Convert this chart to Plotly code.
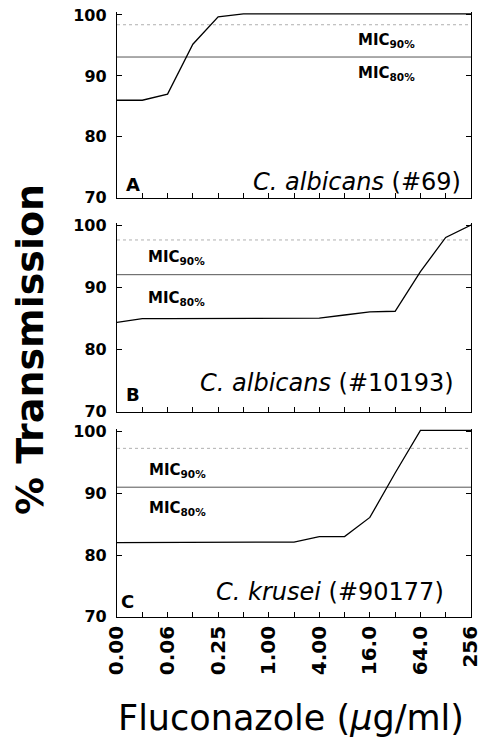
import plotly.graph_objects as go

# ---------------- data ----------------
dilution_index = list(range(15))          # two-fold dilution steps
tick_label_index = [0, 2, 4, 6, 8, 10, 12, 14]
conc_labels = ["0.00", "0.06", "0.25", "1.00", "4.00", "16.0", "64.0", "256"]

trans_A = [86.0, 86.0, 87.0, 95.2, 99.7, 100.2, 100.2, 100.2, 100.2, 100.2,
           100.2, 100.2, 100.2, 100.2, 100.2]
trans_B = [84.4, 85.0, 85.0, 85.0, 85.0, 85.0, 85.0, 85.0, 85.1, 85.6,
           86.1, 86.2, 92.6, 98.1, 100.1]
trans_C = [82.0, 82.0, 82.0, 82.0, 82.0, 82.0, 82.0, 82.1, 83.0, 83.0,
           86.1, 93.3, 100.2, 100.2, 100.2]

mic90 = [98.4, 97.7, 97.3]
mic80 = [93.1, 92.1, 91.0]

panel_letters = ["A", "B", "C"]
species = ["<i>C. albicans</i> (#69)", "<i>C. albicans</i> (#10193)", "<i>C. krusei</i> (#90177)"]

# ---------------- layout helpers ----------------
W, H = 481, 740
FONT = "DejaVu Sans"
px_left, px_right = 117, 471
panels_px = [(15.0, 197.7), (225.7, 411.7), (431.7, 616.7)]  # (y of 100, y of 70)
YMAX = 100.5

fig = go.Figure()
series = [trans_A, trans_B, trans_C]
minor_vals = [k for k in dilution_index if k not in tick_label_index]

for i, (p100, p70) in enumerate(panels_px):
    n = i + 1
    xa = "x" if n == 1 else f"x{n}"
    ya = "y" if n == 1 else f"y{n}"
    ppu = (p70 - p100) / 30.0
    top_px = p100 - (YMAX - 100) * ppu
    dom = [1 - p70 / H, 1 - top_px / H]

    fig.add_trace(go.Scatter(x=[dilution_index[0], dilution_index[-1]], y=[mic90[i]] * 2,
                             mode="lines", line=dict(color="#b0b0b0", width=1, dash="dot"),
                             xaxis=xa, yaxis=ya, showlegend=False, hoverinfo="skip"))
    fig.add_trace(go.Scatter(x=[dilution_index[0], dilution_index[-1]], y=[mic80[i]] * 2,
                             mode="lines", line=dict(color="#555555", width=1),
                             xaxis=xa, yaxis=ya, showlegend=False, hoverinfo="skip"))
    fig.add_trace(go.Scatter(x=dilution_index, y=series[i], mode="lines",
                             line=dict(color="black", width=1.3),
                             xaxis=xa, yaxis=ya, showlegend=False))

    xkey = "xaxis" if n == 1 else f"xaxis{n}"
    ykey = "yaxis" if n == 1 else f"yaxis{n}"
    fig.update_layout(**{
        xkey: dict(domain=[px_left / W, px_right / W], anchor=ya, range=[0, 14],
                   showline=True, linecolor="black", linewidth=1.3, mirror=False,
                   ticks="inside", ticklen=5, tickwidth=1, tickcolor="black",
                   tickmode="array", tickvals=tick_label_index, ticktext=conc_labels,
                   minor=dict(tickmode="array", tickvals=minor_vals, ticks="inside",
                              ticklen=5, tickwidth=1, tickcolor="black", showgrid=False),
                   showticklabels=(n == 3), tickangle=-90, ticklabeloverflow="allow",
                   tickfont=dict(family=FONT, size=20, color="black", weight="bold"),
                   showgrid=False, zeroline=False, fixedrange=True, automargin=False),
        ykey: dict(domain=dom, anchor=xa, range=[70, YMAX],
                   showline=True, linecolor="black", linewidth=1.3, mirror="ticks",
                   ticks="inside", ticklen=5, tickwidth=1, tickcolor="black",
                   tickvals=[70, 80, 90, 100],
                   tickfont=dict(family=FONT, size=16, color="black", weight="bold"),
                   ticklabelstandoff=6,
                   showgrid=False, zeroline=False, fixedrange=True, automargin=False),
    })

# ---------------- annotations ----------------
ann = []
mic_pos = [  # (x index, y90, y80)
    (9.49, 95.8, 90.4),
    (1.17, 94.9, 88.2),
    (1.24, 93.7, 87.5),
]
species_pos = [(13.64, 72.5), (13.37, 74.6), (12.97, 74.05)]
letter_pos = [(0.3, 72.1), (0.32, 72.7), (0.12, 72.4)]
for i in range(3):
    n = i + 1
    xr = "x" if n == 1 else f"x{n}"
    yr = "y" if n == 1 else f"y{n}"
    mx, m9, m8 = mic_pos[i]
    for txt, yy in (("MIC<sub>90%</sub>", m9), ("MIC<sub>80%</sub>", m8)):
        ann.append(dict(x=mx, y=yy, xref=xr, yref=yr, text=txt, showarrow=False,
                        xanchor="left", yanchor="middle", borderpad=0,
                        font=dict(family=FONT, size=15, color="black", weight="bold")))
    sx, sy = species_pos[i]
    ann.append(dict(x=sx, y=sy, xref=xr, yref=yr, text=species[i], showarrow=False,
                    xanchor="right", yanchor="middle", borderpad=0,
                    font=dict(family=FONT, size=24, color="black")))
    lx, ly = letter_pos[i]
    ann.append(dict(x=lx, y=ly, xref=xr, yref=yr, text=panel_letters[i], showarrow=False,
                    xanchor="left", yanchor="middle", borderpad=0,
                    font=dict(family=FONT, size=18, color="black", weight="bold")))

ann.append(dict(x=30 / W, y=1 - 350 / H, xref="paper", yref="paper", text="% Transmission",
                textangle=-90, showarrow=False, xanchor="center", yanchor="middle",
                font=dict(family=FONT, size=38, color="black", weight="bold")))
ann.append(dict(x=291 / W, y=1 - 718 / H, xref="paper", yref="paper",
                text="Fluconazole (<i>μ</i>g/ml)", showarrow=False,
                xanchor="center", yanchor="middle",
                font=dict(family=FONT, size=35, color="black")))

fig.update_layout(width=W, height=H, margin=dict(l=0, r=0, t=0, b=0, autoexpand=False),
                  paper_bgcolor="white", plot_bgcolor="white",
                  annotations=ann, showlegend=False)

fig.write_html("out.html", config={"displayModeBar": False},
               post_script="document.body.style.margin='0px';"
                           "document.body.style.overflow='hidden';")
